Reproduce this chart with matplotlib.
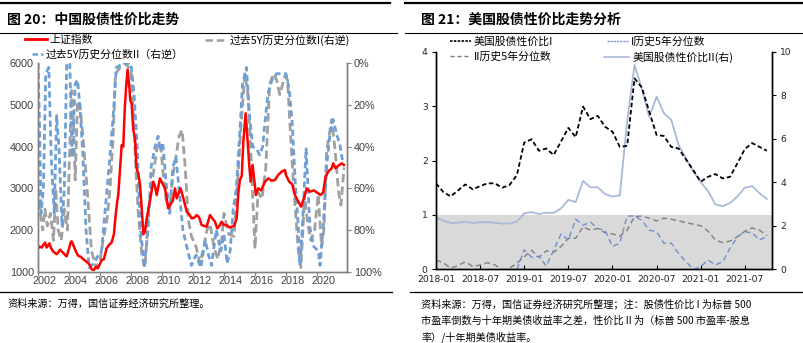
import numpy as np
import pandas as pd
import matplotlib
matplotlib.use('Agg')
import matplotlib.pyplot as plt
from matplotlib.lines import Line2D
from matplotlib import font_manager

W, H = 804, 343
CJK = ['Noto Sans CJK SC', 'DejaVu Sans']
plt.rcParams['font.family'] = CJK
plt.rcParams['axes.unicode_minus'] = False

names = {f.name for f in font_manager.fontManager.ttflist}
NARROW = 'Liberation Sans Narrow' if 'Liberation Sans Narrow' in names else 'DejaVu Sans'
NARROW_SIZE = 8.4 if NARROW == 'Liberation Sans Narrow' else 6.6
ARIAL = 'Liberation Sans' if 'Liberation Sans' in names else 'DejaVu Sans'

# ---------------- left chart: China (decimal years) ----------------
sh_t = [2002.00, 2002.10, 2002.25, 2002.34, 2002.45, 2002.56, 2002.73, 2002.85, 2002.99,
        2003.20, 2003.30, 2003.42, 2003.63, 2003.75, 2003.85, 2004.00, 2004.10, 2004.17,
        2004.30, 2004.45, 2004.60, 2004.75, 2004.92, 2005.10, 2005.25, 2005.35, 2005.46,
        2005.60, 2005.75, 2005.85, 2005.95, 2006.11, 2006.25, 2006.43, 2006.60, 2006.75,
        2006.90, 2006.97, 2007.10, 2007.18, 2007.30, 2007.40, 2007.50, 2007.61, 2007.70,
        2007.78, 2007.90, 2007.96, 2008.04, 2008.15, 2008.26, 2008.35, 2008.47, 2008.58,
        2008.70, 2008.80, 2008.90, 2009.00, 2009.22, 2009.44, 2009.55, 2009.66, 2009.87,
        2010.08, 2010.20, 2010.40, 2010.55, 2010.70, 2010.84, 2010.95, 2011.20, 2011.38,
        2011.60, 2011.75, 2011.92, 2012.10, 2012.24, 2012.40, 2012.56, 2012.70, 2012.88,
        2013.10, 2013.25, 2013.42, 2013.57, 2013.70, 2013.85, 2014.00, 2014.17, 2014.35,
        2014.50, 2014.65, 2014.82, 2014.93, 2015.03, 2015.15, 2015.25, 2015.40, 2015.50,
        2015.63, 2015.72, 2015.85, 2016.06, 2016.21, 2016.40, 2016.65, 2016.86, 2017.08,
        2017.29, 2017.50, 2017.72, 2017.94, 2018.00, 2018.21, 2018.40, 2018.58, 2018.80,
        2018.97, 2019.16, 2019.34, 2019.55, 2019.80, 2020.08, 2020.24, 2020.40, 2020.56,
        2020.73, 2020.95, 2021.05, 2021.20, 2021.40, 2021.60, 2021.74]
sh_v = [1560, 1600, 1580, 1640, 1700, 1580, 1680, 1560, 1480,
        1420, 1460, 1530, 1450, 1400, 1370, 1550, 1700, 1730,
        1620, 1480, 1380, 1360, 1300, 1250, 1200, 1150, 1060,
        1040, 1120, 1080, 1150, 1280, 1300, 1560, 1650, 1700,
        1900, 2200, 2650, 2840, 3500, 4040, 4000, 5000, 5500,
        5850, 5400, 5100, 5050, 4400, 4200, 3500, 3350, 3100,
        2480, 1900, 1950, 2240, 2700, 3160, 3050, 2840, 3240,
        3080, 3000, 2520, 2620, 2700, 3000, 2760, 3000, 2760,
        2440, 2380, 2280, 2300, 2360, 2300, 2120, 2100, 2080,
        2360, 2280, 2200, 2040, 2100, 2200, 2120, 2120, 2060,
        2080, 2100, 2280, 2900, 3200, 3300, 4120, 4800, 4280,
        3560, 3160, 3560, 2840, 3000, 2950, 3160, 3240, 3180,
        3200, 3320, 3400, 3440, 3320, 3160, 3100, 2840, 2680,
        2560, 2760, 3000, 2920, 2950, 2880, 2840, 2900, 3280,
        3400, 3480, 3600, 3480, 3550, 3600, 3560]

# 过去5Y历史分位数I (%), right axis inverted
p1_t = [2002.00, 2002.15, 2002.30, 2002.45, 2002.60, 2002.80, 2003.00, 2003.15, 2003.30,
        2003.50, 2003.70, 2003.90, 2004.05, 2004.17, 2004.30, 2004.40, 2004.55, 2004.70,
        2004.90, 2005.15, 2005.45, 2005.75, 2006.00, 2006.20, 2006.45, 2006.65, 2006.85,
        2007.00, 2007.30, 2007.60, 2008.00, 2008.25, 2008.45, 2008.70, 2008.90, 2009.15,
        2009.40, 2009.70, 2009.90, 2010.10, 2010.30, 2010.50, 2010.70, 2010.90, 2011.10,
        2011.30, 2011.50, 2011.70, 2011.90, 2012.20, 2012.45, 2012.70, 2012.90, 2013.10,
        2013.35, 2013.60, 2013.85, 2014.00, 2014.30, 2014.65, 2014.90, 2015.10, 2015.35,
        2015.55, 2015.75, 2016.00, 2016.20, 2016.45, 2016.70, 2016.95, 2017.20, 2017.40,
        2017.60, 2017.94, 2018.10, 2018.37, 2018.58, 2018.80, 2018.97, 2019.10, 2019.20,
        2019.40, 2019.60, 2019.85, 2020.08, 2020.30, 2020.45, 2020.63, 2020.95, 2021.15,
        2021.40, 2021.55, 2021.75]
p1_v = [60, 72, 80, 70, 78, 72, 85, 60, 80,
        85, 70, 80, 40, 13, 30, 56, 18, 20,
        35, 58, 90, 98, 95, 85, 75, 60, 35,
        5, 2, 0, 3, 40, 70, 92, 98, 70,
        55, 40, 38, 55, 67, 70, 54, 45, 35,
        32, 50, 75, 83, 88, 96, 88, 80, 77,
        88, 94, 85, 72, 82, 83, 55, 30, 5,
        15, 45, 89, 62, 65, 50, 10, 5, 8,
        15, 6, 8, 44, 68, 90, 98, 79, 63,
        77, 85, 80, 63, 88, 80, 42, 27, 40,
        62, 68, 50]

# 过去5Y历史分位数II (%), right axis inverted
p2_t = [2002.00, 2002.10, 2002.20, 2002.35, 2002.50, 2002.70, 2002.85, 2003.05, 2003.20,
        2003.35, 2003.55, 2003.70, 2003.85, 2004.05, 2004.20, 2004.40, 2004.55, 2004.70,
        2004.90, 2005.10, 2005.30, 2005.60, 2005.90, 2006.10, 2006.40, 2006.70, 2006.90,
        2007.05, 2007.50, 2008.00, 2008.20, 2008.40, 2008.60, 2008.85, 2009.10, 2009.30,
        2009.55, 2009.75, 2009.90, 2010.05, 2010.30, 2010.50, 2010.70, 2010.90, 2011.10,
        2011.35, 2011.60, 2011.90, 2012.20, 2012.50, 2012.80, 2013.00, 2013.20, 2013.50,
        2013.80, 2014.00, 2014.20, 2014.40, 2014.60, 2014.80, 2015.00, 2015.20, 2015.45,
        2015.65, 2015.85, 2016.10, 2016.30, 2016.50, 2016.65, 2016.85, 2017.10, 2017.40,
        2017.80, 2018.00, 2018.20, 2018.40, 2018.60, 2018.80, 2018.90, 2019.05, 2019.30,
        2019.55, 2019.80, 2020.08, 2020.20, 2020.40, 2020.63, 2020.84, 2021.05, 2021.27,
        2021.48, 2021.70]
p2_v = [0, 30, 72, 60, 5, 2, 45, 72, 25,
        40, 78, 60, 0, 0, 45, 10, 8, 20,
        45, 80, 98, 96, 92, 90, 65, 40, 20,
        2, 0, 0, 15, 40, 78, 98, 80, 50,
        40, 35, 42, 38, 60, 72, 50, 45, 60,
        80, 88, 97, 92, 98, 85, 92, 97, 80,
        90, 82, 96, 90, 70, 60, 36, 10, 2,
        25, 40, 41, 44, 40, 28, 14, 8, 5,
        5, 5, 12, 28, 57, 79, 97, 80, 41,
        79, 88, 90, 97, 79, 49, 34, 27, 34,
        39, 49]

cn_years = [2002, 2004, 2006, 2008, 2010, 2012, 2014, 2016, 2018, 2020]

# ---------------- right chart: US (monthly) ----------------
us_months = pd.period_range('2018-01', periods=46, freq='M').strftime('%Y-%m').tolist()
us_ratio1 = [1.58, 1.42, 1.34, 1.45, 1.56, 1.47, 1.53, 1.58, 1.58, 1.50, 1.55, 1.73,
             2.33, 2.39, 2.18, 2.22, 2.10, 2.35, 2.60, 2.43, 2.99, 2.76, 2.82, 2.62,
             2.53, 2.25, 2.27, 3.51, 3.34, 2.90, 2.47, 2.45, 2.25, 2.22, 2.02, 1.82,
             1.61, 1.70, 1.75, 1.67, 1.70, 1.95, 2.21, 2.32, 2.25, 2.18]
us_pct1 = [np.nan] * 11 + [0.0, 0.36, 0.22, 0.24, 0.06, 0.35, 0.65, 0.54, 0.92, 0.81, 0.87,
                           0.75, 0.72, 0.42, 0.48, 0.98, 0.98, 0.90, 0.72, 0.69, 0.48, 0.48,
                           0.29, 0.14, 0.0, 0.05, 0.17, 0.08, 0.14, 0.39, 0.60, 0.69, 0.67,
                           0.54, 0.60]
us_pct2 = [0.17, 0.12, 0.02, 0.07, 0.14, 0.05, 0.08, 0.12, 0.08, 0.0, 0.02, 0.11,
           0.23, 0.35, 0.22, 0.34, 0.31, 0.42, 0.57, 0.57, 0.78, 0.72, 0.75, 0.67,
           0.65, 0.61, 0.72, 0.97, 0.98, 0.94, 0.89, 0.94, 0.92, 0.89, 0.86, 0.83,
           0.80, 0.70, 0.54, 0.49, 0.52, 0.60, 0.70, 0.76, 0.72, 0.62]
us_ratio2 = [2.37, 2.24, 2.13, 2.14, 2.19, 2.13, 2.16, 2.17, 2.14, 2.10, 2.10, 2.19,
             2.57, 2.63, 2.54, 2.60, 2.59, 2.80, 3.19, 3.09, 4.06, 3.77, 3.77, 3.46,
             3.34, 3.40, 6.80, 9.39, 8.30, 7.00, 7.94, 7.17, 6.87, 5.70, 5.10, 4.50,
             4.00, 3.60, 2.98, 2.90, 3.05, 3.35, 3.75, 3.82, 3.50, 3.23]
us_ticks = ['2018-01', '2018-07', '2019-01', '2019-07', '2020-01', '2020-07', '2021-01', '2021-07']

RED = '#ff0000'
GRAY_D = '#a0a0a0'
BLUE_D = '#6e9fd5'
US_BLUE = '#6f8fcf'
US_GRAY = '#808080'
US_LIGHT = '#a9b9d9'
SPINE = '#808080'


def fx(x):
    return x / W


def fy(y):
    return 1 - y / H


fig = plt.figure(figsize=(W / 100, H / 100), dpi=100)

# ===== left panel =====
ax1 = fig.add_axes([fx(38), fy(271.7), fx(347) - fx(38), fy(63.3) - fy(271.7)])
ax1r = ax1.twinx()
ax1.set_zorder(ax1r.get_zorder() + 1)
ax1.patch.set_visible(False)

ax1r.plot(p1_t, p1_v, color=GRAY_D, lw=2.0, dashes=(3, 1.5))
ax1r.plot(p2_t, p2_v, color=BLUE_D, lw=2.0, dashes=(2.2, 1.3))
ax1.plot(sh_t, sh_v, color=RED, lw=1.8)

ax1.set_xlim(2002.0, 2021.94)
ax1.set_ylim(1000, 6000)
ax1.set_yticks(range(1000, 6001, 1000))
ax1r.set_ylim(100, 0)
ax1r.set_yticks(range(0, 101, 20))
ax1r.set_yticklabels([f'{v}%' for v in range(0, 101, 20)])
ax1.set_xticks(cn_years)
ax1.set_xticklabels([])
ax1.set_xticks([y + 0.45 for y in cn_years], minor=True)
ax1.set_xticklabels([str(y) for y in cn_years], minor=True)
ax1.tick_params(axis='x', which='major', length=3, color=SPINE)
ax1.tick_params(axis='x', which='minor', length=0, pad=3)
ax1.tick_params(axis='y', length=0, pad=3)
ax1r.tick_params(axis='y', length=3, color=SPINE, pad=2)
for a in (ax1, ax1r):
    a.spines['top'].set_visible(False)
    for s in ('left', 'right', 'bottom'):
        a.spines[s].set_color(SPINE)
        a.spines[s].set_linewidth(1.0)
for lab in ax1.get_xticklabels(minor=True) + ax1.get_yticklabels() + ax1r.get_yticklabels():
    lab.set_fontfamily(ARIAL)
    lab.set_fontsize(7.8)
    lab.set_color('#404040')

# ===== right panel =====
ax2 = fig.add_axes([fx(436), fy(269.3), fx(772) - fx(436), fy(51.7) - fy(269.3)])
ax2r = ax2.twinx()
x = np.arange(len(us_months))
# grey band 0..1 on the left scale, drawn on the lower (right-scale) axes so every line sits above it
ax2r.axhspan(0, 2.5, color='#d9d9d9', lw=0, zorder=0)
ax2r.plot(x, us_ratio2, color=US_LIGHT, lw=1.3)
ax2.plot(x, us_pct2, color=US_GRAY, lw=1.0, dashes=(4, 2.5))
ax2.plot(x, us_pct1, color=US_BLUE, lw=1.0, dashes=(4, 2.5))
ax2.plot(x, us_ratio1, color='black', lw=1.3, dashes=(2.5, 1.5), zorder=5)
ax2.set_zorder(ax2r.get_zorder() + 1)
ax2.patch.set_visible(False)

ax2.set_xlim(0, 45.7)
ax2.set_ylim(0, 4)
ax2.set_yticks([0, 1, 2, 3, 4])
ax2r.set_ylim(0, 10)
ax2r.set_yticks([0, 2, 4, 6, 8, 10])
ax2.set_xticks([us_months.index(m) for m in us_ticks])
ax2.set_xticklabels(us_ticks)
ax2.tick_params(axis='x', direction='in', length=3, pad=4)
ax2.tick_params(axis='y', length=3, pad=3)
ax2r.tick_params(axis='y', length=3, pad=3)
for a in (ax2, ax2r):
    a.spines['top'].set_visible(False)
    for s in ('left', 'right', 'bottom'):
        a.spines[s].set_color('black')
        a.spines[s].set_linewidth(1.0)
for lab in ax2.get_xticklabels() + ax2.get_yticklabels() + ax2r.get_yticklabels():
    lab.set_fontfamily(NARROW)
    lab.set_fontsize(NARROW_SIZE)
    lab.set_color('#202020')


# ===== legends =====
def key(xp, yp, handle, label, size=7.8, hl=2.0):
    fig.legend([handle], [label], loc='center left', bbox_to_anchor=(fx(xp), fy(yp)),
               frameon=False, borderpad=0, borderaxespad=0, handlelength=hl,
               handletextpad=0.3, prop={'family': CJK, 'size': size})


key(25, 40, Line2D([], [], color=RED, lw=2), '上证指数')
key(205, 40, Line2D([], [], color=GRAY_D, lw=1.8, dashes=(3, 1.5)), '过去5Y历史分位数I(右逆)')
key(32, 55, Line2D([], [], color=BLUE_D, lw=1.8, dashes=(2.2, 1.3)), '过去5Y历史分位数II（右逆）', hl=1.0)

key(450, 42, Line2D([], [], color='black', lw=1.2, dashes=(1.5, 0.8)), '美国股债性价比I', hl=1.9)
key(607, 42, Line2D([], [], color=US_BLUE, lw=1.0, dashes=(1.5, 0.8)), 'I历史5年分位数', hl=1.9)
key(450, 57, Line2D([], [], color=US_GRAY, lw=1.0, dashes=(3, 2)), 'II历史5年分位数', hl=1.9)
key(604, 57, Line2D([], [], color=US_LIGHT, lw=1.2), '美国股债性价比II(右)', hl=2.3)

# ===== titles, rules and sources =====
fig.text(fx(7), fy(20), '图 20：中国股债性价比走势', fontsize=10, fontweight='bold', va='center', ha='left')
fig.text(fx(421), fy(20), '图 21：美国股债性价比走势分析', fontsize=10, fontweight='bold', va='center', ha='left')

rules = [(0, 390, 3, 1.6), (405, 804, 3, 1.6), (0, 397, 33, 0.8), (405, 804, 33, 0.8),
         (0, 392, 292, 0.9), (410, 804, 292, 0.9)]
for x0, x1, yy, lw in rules:
    fig.add_artist(Line2D([fx(x0), fx(x1)], [fy(yy), fy(yy)], transform=fig.transFigure,
                          color='black', lw=lw))

fig.text(fx(7), fy(304), '资料来源：万得，国信证券经济研究所整理。', fontsize=7.3, va='center', ha='left')
src_lines = ['资料来源：万得，国信证券经济研究所整理；注：股债性价比 I 为标普 500',
             '市盈率倒数与十年期美债收益率之差，性价比 II 为（标普 500 市盈率-股息',
             '率）/十年期美债收益率。']
for i, s in enumerate(src_lines):
    fig.text(fx(421), fy(304 + 16.5 * i), s, fontsize=7.3, va='center', ha='left')

fig.savefig('out.png', dpi=100)
